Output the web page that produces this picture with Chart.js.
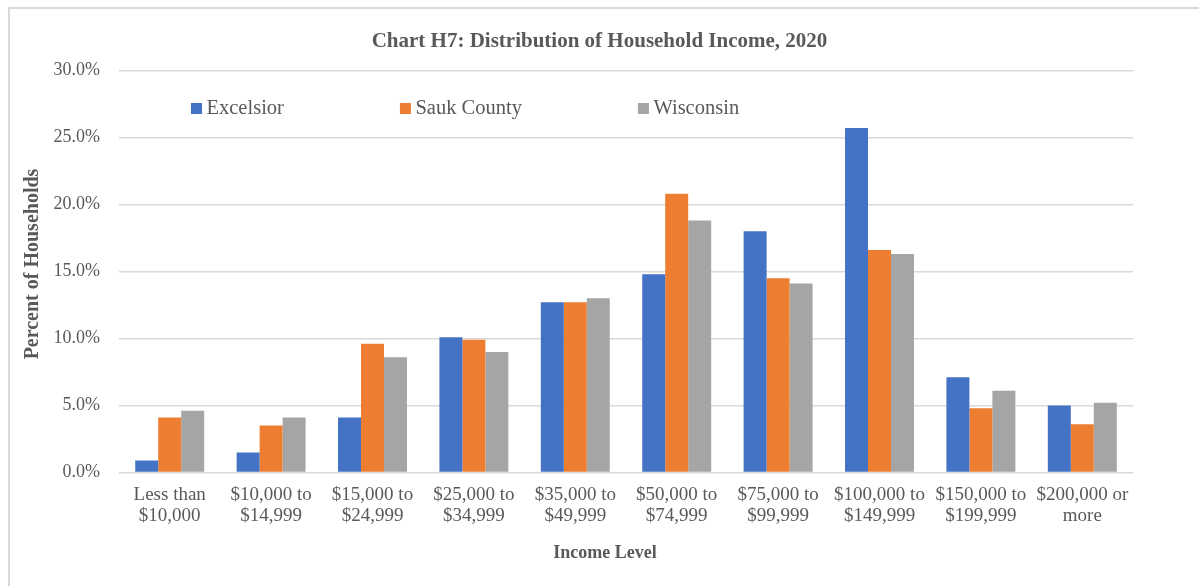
<!DOCTYPE html>
<html>
<head>
<meta charset="utf-8">
<script src="https://cdn.jsdelivr.net/npm/chart.js@4.4.0/dist/chart.umd.min.js"></script>
<style>
  html, body { margin: 0; padding: 0; background: #fff; overflow: hidden; }
  #frame { position: absolute; left: 8px; top: 7px; width: 1300px; height: 700px;
           border-top: 2px solid #d9d9d9; border-left: 2px solid #d9d9d9; }
  #myChart { position: absolute; left: 0; top: 0; }
</style>
</head>
<body>
<div id="frame"></div>
<canvas id="myChart" width="1199" height="586"></canvas>
<script>
const categories = [
    ['Less than', '$10,000'],
    ['$10,000 to', '$14,999'],
    ['$15,000 to', '$24,999'],
    ['$25,000 to', '$34,999'],
    ['$35,000 to', '$49,999'],
    ['$50,000 to', '$74,999'],
    ['$75,000 to', '$99,999'],
    ['$100,000 to', '$149,999'],
    ['$150,000 to', '$199,999'],
    ['$200,000 or', 'more']
];
const seriesNames = ['Excelsior', 'Sauk County', 'Wisconsin'];
const excelsior = [0.9, 1.5, 4.1, 10.1, 12.7, 14.8, 18.0, 25.7, 7.1, 5.0];
const saukCounty = [4.1, 3.5, 9.6, 9.9, 12.7, 20.8, 14.5, 16.6, 4.8, 3.6];
const wisconsin = [4.6, 4.1, 8.6, 9.0, 13.0, 18.8, 14.1, 16.3, 6.1, 5.2];
const yTicks = [0, 5, 10, 15, 20, 25, 30];

const colors = ['#4472C4', '#ED7D31', '#A5A5A5'];
const textColor = '#595959';
const serif = "'Liberation Serif', 'Times New Roman', serif";

// legend and axis titles drawn by hand so they sit where Excel put them
const excelBits = {
    id: 'excelBits',
    afterDraw(chart) {
        const ctx = chart.ctx;
        ctx.save();
        ctx.font = '20.5px ' + serif;
        ctx.textBaseline = 'middle';
        ctx.textAlign = 'left';
        let x = 191;
        const y = 108.5;
        chart.data.datasets.forEach((ds) => {
            ctx.fillStyle = ds.backgroundColor;
            ctx.fillRect(x, y - 5.5, 11, 11);
            ctx.fillStyle = textColor;
            ctx.fillText(ds.label, x + 15.5, y);
            x += 15.5 + ctx.measureText(ds.label).width + 116;
        });

        ctx.fillStyle = textColor;
        ctx.textAlign = 'center';
        ctx.font = 'bold 18px ' + serif;
        ctx.fillText('Income Level', 605, 553);

        ctx.translate(32.5, 264);
        ctx.rotate(-Math.PI / 2);
        ctx.font = 'bold 20px ' + serif;
        ctx.fillText('Percent of Households', 0, 0);
        ctx.restore();
    }
};

const data = {
    labels: categories,
    datasets: [
        { label: seriesNames[0], data: excelsior, backgroundColor: colors[0] },
        { label: seriesNames[1], data: saukCounty, backgroundColor: colors[1] },
        { label: seriesNames[2], data: wisconsin, backgroundColor: colors[2] }
    ]
};

const config = {
    type: 'bar',
    data,
    options: {
        responsive: false,
        devicePixelRatio: 1,
        animation: false,
        datasets: { bar: { categoryPercentage: 0.68, barPercentage: 1.0 } },
        layout: { padding: 0 },
        plugins: {
            legend: { display: false },
            tooltip: { enabled: false },
            title: {
                display: true,
                text: 'Chart H7: Distribution of Household Income, 2020',
                color: textColor,
                font: { family: serif, size: 21, weight: 'bold', lineHeight: 1.2 },
                padding: { top: 29.4, bottom: 15.9 }
            }
        },
        scales: {
            x: {
                grid: { display: false, drawTicks: false },
                border: { display: false },
                ticks: {
                    color: textColor,
                    font: { family: serif, size: 19, lineHeight: 1.12 },
                    padding: 12,
                    maxRotation: 0,
                    autoSkip: false
                },
                afterFit(scale) { scale.height = 113.5; }
            },
            y: {
                min: 0,
                max: 30,
                afterBuildTicks(scale) { scale.ticks = yTicks.map(v => ({ value: v })); },
                grid: { color: '#d9d9d9', lineWidth: 1.5, drawTicks: false },
                border: { display: false },
                ticks: {
                    color: textColor,
                    font: { family: serif, size: 18 },
                    padding: 19,
                    callback: (v) => v.toFixed(1) + '%'
                },
                afterFit(scale) { scale.width = 119; }
            },
            // empty right-hand strip so the title centres on the whole canvas
            spacer: {
                position: 'right',
                display: true,
                grid: { display: false, drawTicks: false },
                border: { display: false },
                ticks: { display: false },
                afterFit(scale) { scale.width = 66; }
            }
        }
    },
    plugins: [excelBits]
};

new Chart(document.getElementById('myChart'), config);
</script>
</body>
</html>
